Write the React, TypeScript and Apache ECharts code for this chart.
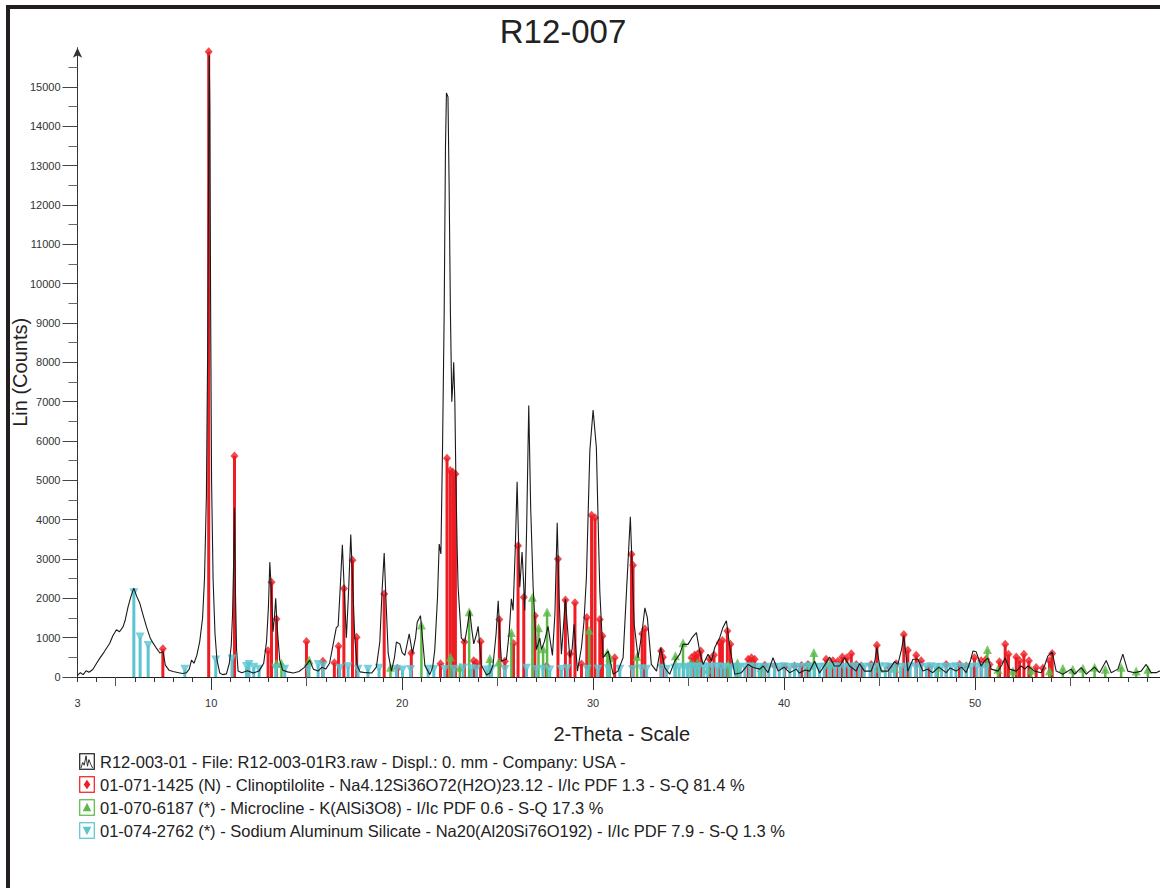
import React, { useEffect, useRef } from "react";
import * as echarts from "echarts";

const titleText = "R12-007";
const xTickLabels = [3, 10, 20, 30, 40, 50];
const xMidTicks = [5, 15, 25, 35, 45, 55];
const xMajorTicks = [10, 20, 30, 40, 50];
const yLabels = [0, 1000, 2000, 3000, 4000, 5000, 6000, 7000, 8000, 9000, 10000, 11000, 12000, 13000, 14000, 15000];
const yMinorTicks = [500, 1500, 2500, 3500, 4500, 5500, 6500, 7500, 8500, 9500, 10500, 11500, 12500, 13500, 14500, 15500];

const legendNames = [
  "R12-003-01 - File: R12-003-01R3.raw - Displ.: 0. mm - Company: USA -",
  "01-071-1425 (N) - Clinoptilolite - Na4.12Si36O72(H2O)23.12 - I/Ic PDF 1.3 - S-Q 81.4 %",
  "01-070-6187 (*) - Microcline - K(AlSi3O8) - I/Ic PDF 0.6 - S-Q 17.3 %",
  "01-074-2762 (*) - Sodium Aluminum Silicate - Na20(Al20Si76O192) - I/Ic PDF 7.9 - S-Q 1.3 %",
];

// Measured pattern (2-theta, counts)
const pattern: [number, number][] = [
  [3.0, 40], [3.15, 110], [3.3, 60], [3.45, 160], [3.6, 120], [3.8, 190], [4.0, 350], [4.17, 480], [4.4, 640],
  [4.69, 860], [4.85, 1050], [5.04, 1200], [5.2, 1150], [5.39, 1280], [5.5, 1450], [5.65, 1790], [5.8, 2050],
  [5.95, 2260], [6.1, 2050], [6.26, 1880], [6.45, 1550], [6.61, 1280], [6.8, 1000], [6.96, 860], [7.15, 720],
  [7.31, 610], [7.48, 640], [7.6, 300], [7.8, 170], [8.0, 140], [8.3, 110], [8.5, 90], [8.71, 110], [8.85, 200],
  [8.97, 430], [9.1, 350], [9.25, 550], [9.4, 900], [9.55, 1500], [9.65, 2500], [9.75, 4600], [9.82, 8500],
  [9.87, 13500], [9.9, 15800], [9.93, 14500], [9.97, 9500], [10.02, 5000], [10.1, 2500], [10.2, 1100], [10.3, 450],
  [10.45, 100], [10.6, 60], [10.8, 80], [10.95, 350], [11.05, 800], [11.12, 1600], [11.18, 3000], [11.22, 4300],
  [11.27, 2200], [11.33, 700], [11.41, 150], [11.6, 110], [11.9, 160], [12.2, 100], [12.5, 150], [12.75, 350],
  [12.9, 900], [13.0, 1800], [13.07, 2920], [13.15, 2200], [13.24, 1150], [13.31, 1500], [13.38, 2000],
  [13.45, 1300], [13.59, 430], [13.75, 170], [14.0, 130], [14.3, 100], [14.6, 140], [14.9, 250], [15.16, 430],
  [15.35, 200], [15.6, 150], [15.8, 250], [16.0, 200], [16.2, 350], [16.38, 810], [16.55, 1250], [16.65, 1300],
  [16.75, 2200], [16.87, 3360], [16.97, 2200], [17.08, 1000], [17.18, 2000], [17.31, 3620], [17.4, 2500],
  [17.52, 1000], [17.64, 300], [17.8, 130], [18.1, 110], [18.4, 100], [18.65, 250], [18.83, 890], [18.95, 2200],
  [19.06, 3150], [19.15, 2000], [19.27, 600], [19.44, 150], [19.6, 500], [19.7, 890], [19.88, 840], [20.0, 620],
  [20.14, 550], [20.37, 1100], [20.54, 600], [20.7, 1000], [20.79, 1390], [20.96, 1560], [21.1, 800], [21.19, 300],
  [21.45, 60], [21.6, 250], [21.71, 700], [21.85, 2000], [21.94, 3380], [22.03, 3130], [22.12, 6000], [22.2, 9200],
  [22.27, 13500], [22.32, 14850], [22.4, 14750], [22.46, 12500], [22.53, 9200], [22.6, 7000], [22.66, 7500],
  [22.7, 8000], [22.76, 7000], [22.81, 5200], [22.88, 3300], [22.93, 2280], [23.1, 990], [23.28, 890], [23.42, 1300],
  [23.54, 1690], [23.65, 1200], [23.75, 840], [23.9, 1100], [23.98, 1290], [24.15, 300], [24.42, 50], [24.6, 100],
  [24.76, 300], [24.92, 1100], [25.03, 1940], [25.12, 1000], [25.2, 400], [25.46, 450], [25.6, 1100], [25.72, 1990],
  [25.81, 1690], [25.92, 3200], [26.02, 4965], [26.1, 3400], [26.16, 2280], [26.28, 3180], [26.36, 2400],
  [26.42, 1690], [26.52, 3800], [26.63, 6900], [26.73, 4320], [26.86, 2280], [27.03, 700], [27.21, 990], [27.29, 700],
  [27.45, 900], [27.64, 1290], [27.87, 550], [28.0, 1600], [28.12, 3920], [28.22, 2000], [28.34, 580], [28.45, 1300],
  [28.55, 1980], [28.65, 1300], [28.78, 490], [28.9, 700], [29.0, 1340], [29.18, 150], [29.39, 750], [29.52, 1400],
  [29.65, 2530], [29.83, 5760], [30.0, 6790], [30.17, 5840], [30.35, 2190], [30.52, 490], [30.79, 660], [31.05, 70],
  [31.3, 150], [31.57, 490], [31.75, 2190], [31.95, 4075], [32.15, 1340], [32.36, 490], [32.57, 1170], [32.71, 1760],
  [32.84, 1510], [33.05, 320], [33.32, 150], [33.54, 750], [33.75, 240], [34.01, 70], [34.28, 410], [34.54, 580],
  [34.71, 830], [34.97, 830], [35.18, 1000], [35.41, 1130], [35.58, 660], [35.76, 320], [36.02, 580], [36.2, 410],
  [36.37, 750], [36.63, 1000], [36.8, 1260], [36.98, 1430], [37.16, 750], [37.42, 70], [37.77, 110], [38.12, 320],
  [38.38, 240], [38.73, 200], [38.9, 280], [39.16, 110], [39.42, 490], [39.69, 150], [40.0, 250], [40.29, 110],
  [40.64, 200], [40.8, 100], [41.1, 180], [41.34, 150], [41.6, 400], [41.86, 100], [42.2, 360], [42.38, 510],
  [42.64, 280], [42.91, 280], [43.17, 490], [43.43, 280], [43.78, 150], [43.95, 340], [44.21, 150], [44.56, 150],
  [44.75, 400], [44.86, 745], [45.0, 300], [45.09, 150], [45.44, 150], [45.79, 390], [45.96, 320], [46.15, 700],
  [46.27, 1040], [46.4, 500], [46.48, 150], [46.75, 450], [47.01, 450], [47.27, 150], [47.5, 200], [47.79, 110],
  [48.1, 250], [48.49, 110], [48.7, 230], [49.01, 150], [49.3, 250], [49.54, 110], [49.75, 400], [49.89, 660],
  [50.06, 640], [50.32, 280], [50.5, 410], [50.67, 480], [50.85, 200], [51.2, 150], [51.4, 300], [51.58, 490],
  [51.8, 200], [52.16, 150], [52.42, 280], [52.6, 200], [52.77, 280], [53.12, 150], [53.46, 110], [53.65, 300],
  [53.81, 530], [54.04, 635], [54.25, 150], [54.6, 70], [55.03, 200], [55.21, 70], [55.56, 240], [55.82, 70],
  [56.0, 150], [56.26, 250], [56.52, 110], [56.87, 420], [57.13, 110], [57.48, 200], [57.74, 580], [58.0, 150],
  [58.35, 110], [58.7, 150], [58.96, 320], [59.22, 110], [59.49, 110], [59.66, 150], [60.0, 100],
];

// Clinoptilolite reference lines
const clinoptilolite: [number, number][] = [
  [7.47, 720], [9.87, 15900], [11.22, 5620], [12.98, 670], [13.16, 2410], [13.42, 1475], [14.99, 900], [15.85, 400],
  [16.45, 360], [16.67, 780], [16.95, 2250], [17.4, 2970], [17.62, 1010], [19.06, 2110], [19.75, 220], [20.48, 610],
  [22.01, 340], [22.35, 5560], [22.52, 5250], [22.65, 5210], [22.79, 5160], [23.26, 890], [23.75, 410], [23.89, 360],
  [24.11, 900], [25.09, 1460], [25.38, 400], [25.83, 850], [26.07, 3340], [26.37, 2030], [26.95, 1560], [27.56, 280],
  [28.16, 3000], [28.55, 1960], [28.8, 590], [29.05, 1890], [29.39, 330], [29.67, 1510], [29.92, 4110], [30.1, 4050],
  [30.35, 1460], [30.49, 1040], [31.13, 490], [32.01, 3120], [32.09, 2840], [32.57, 1100], [32.71, 1220], [33.56, 660],
  [33.66, 500], [35.15, 490], [35.32, 560], [35.46, 580], [35.64, 660], [36.11, 450], [36.33, 560], [36.63, 870],
  [36.77, 930], [37.03, 1170], [37.19, 830], [38.12, 450], [38.29, 490], [38.46, 450], [38.99, 300], [39.51, 280],
  [40.03, 250], [40.55, 280], [40.91, 290], [41.25, 320], [42.2, 450], [42.56, 410], [42.82, 400], [43.05, 510],
  [43.29, 490], [43.52, 590], [43.78, 320], [44.04, 280], [44.56, 320], [44.86, 810], [45.52, 250], [45.87, 340],
  [46.27, 1080], [46.48, 680], [46.92, 550], [47.18, 410], [47.62, 250], [48.49, 320], [49.19, 320], [49.54, 280],
  [49.97, 490], [50.32, 410], [50.58, 450], [50.76, 320], [51.28, 390], [51.58, 830], [51.75, 580], [52.16, 510],
  [52.33, 410], [52.56, 580], [52.82, 410], [53.2, 240], [53.55, 220], [53.9, 410], [54.04, 600],
];

// Microcline reference lines
const microcline: [number, number][] = [
  [13.42, 350], [13.68, 350], [15.13, 430], [19.39, 250], [21.01, 1320], [22.53, 510], [23.02, 250], [23.51, 1660],
  [24.59, 470], [25.06, 380], [25.72, 1130], [26.82, 2030], [27.14, 1250], [27.38, 720], [27.59, 1650], [29.79, 1190],
  [30.75, 620], [30.87, 490], [32.3, 520], [34.31, 540], [34.71, 870], [35.11, 360], [35.46, 360], [36.02, 200],
  [37.07, 320], [37.56, 360], [38.81, 240], [41.34, 300], [41.56, 620], [42.38, 320], [45.0, 220], [45.79, 220],
  [48.05, 250], [50.65, 700], [51.2, 200], [51.98, 160], [52.94, 180], [53.9, 160], [54.6, 220], [55.12, 200],
  [55.65, 220], [56.26, 250], [56.82, 200], [57.65, 250], [58.44, 150], [59.05, 200],
];

// Sodium aluminum silicate reference lines
const naAlSilicate: [number, number][] = [
  [5.95, 2140], [6.28, 1020], [6.7, 800], [8.62, 200], [10.24, 430], [11.09, 460], [11.85, 270], [11.98, 320],
  [12.23, 250], [12.51, 200], [13.38, 220], [13.85, 200], [15.07, 200], [15.6, 320], [15.86, 280], [16.73, 220],
  [17.17, 260], [17.69, 200], [18.21, 200], [18.79, 220], [19.7, 200], [20.02, 180], [20.44, 190], [21.36, 200],
  [21.66, 190], [22.23, 190], [22.71, 200], [23.19, 230], [23.63, 210], [23.89, 200], [24.45, 180], [24.68, 200],
  [25.38, 190], [26.51, 220], [27.03, 190], [27.38, 200], [27.73, 180], [28.34, 190], [28.64, 210], [29.69, 200],
  [30.26, 200], [30.79, 210], [31.4, 200], [32.06, 190], [32.53, 210], [32.79, 200], [33.58, 220], [33.84, 190],
  [34.28, 220], [34.5, 250], [34.75, 230], [34.95, 250], [35.15, 260], [35.35, 240], [35.55, 250], [35.8, 260],
  [36.0, 240], [36.25, 250], [36.5, 260], [36.7, 240], [36.9, 250], [37.2, 230], [37.45, 250], [37.7, 240],
  [37.95, 250], [38.2, 260], [38.45, 240], [38.7, 250], [38.95, 230], [39.2, 250], [39.5, 240], [39.75, 250],
  [40.0, 260], [40.3, 240], [40.55, 250], [40.8, 240], [41.1, 250], [41.35, 260], [41.6, 240], [41.85, 250],
  [42.1, 250], [42.4, 240], [42.65, 260], [42.9, 250], [43.15, 240], [43.4, 250], [43.7, 260], [43.95, 240],
  [44.2, 250], [44.5, 250], [44.75, 240], [45.0, 250], [45.3, 260], [45.55, 240], [45.8, 250], [46.1, 250],
  [46.35, 240], [46.6, 260], [46.9, 250], [47.15, 240], [47.45, 250], [47.7, 260], [47.95, 240], [48.25, 250],
  [48.5, 250], [48.75, 240], [49.0, 260], [49.3, 250], [49.55, 240], [49.8, 250], [50.1, 260], [50.35, 250],
  [50.6, 240],
];

const RED = "#ee1d23";
const GREEN = "#5cb947";
const CYAN = "#5bc4d1";
const FONT = "'Liberation Sans', Arial, Helvetica, sans-serif";

function svgIcon(color: string, inner: string): string {
  const svg =
    `<svg xmlns="http://www.w3.org/2000/svg" width="17" height="18" viewBox="0 0 17 18">` +
    `<rect x="0.75" y="0.75" width="15.5" height="16.5" fill="white" stroke="${color}" stroke-width="1.3"/>` +
    inner +
    `</svg>`;
  return "image://data:image/svg+xml;charset=utf-8," + encodeURIComponent(svg);
}

const icons = [
  svgIcon("#222", `<polyline points="2,16 4,10 5.5,13 7.5,3 9,14 10.5,7 12.5,12 14.5,16" fill="none" stroke="#222" stroke-width="1"/>`),
  svgIcon(RED, `<polygon points="8.5,4 12,9 8.5,14 5,9" fill="${RED}"/>`),
  svgIcon(GREEN, `<polygon points="8.5,4 13,13 4,13" fill="${GREEN}"/>`),
  svgIcon(CYAN, `<polygon points="4,5 13,5 8.5,14" fill="${CYAN}"/>`),
];

function stickSeries(name: string, data: [number, number][], color: string, width: number, z: number) {
  return {
    type: "custom",
    name,
    data,
    z,
    clip: true,
    encode: { x: 0, y: 1 },
    renderItem: (_params: any, api: any) => {
      const top = api.coord([api.value(0), api.value(1)]);
      const base = api.coord([api.value(0), 0]);
      return {
        type: "line",
        shape: { x1: top[0], y1: top[1], x2: base[0], y2: base[1] },
        style: { stroke: color, lineWidth: width },
      };
    },
  };
}

function markerSeries(name: string, data: [number, number][], color: string, symbol: string, size: any, rotate: number, z: number) {
  return {
    type: "scatter",
    name,
    data,
    z,
    symbol,
    symbolSize: size,
    symbolRotate: rotate,
    itemStyle: { color },
    clip: true,
  };
}

export default function App() {
  const ref = useRef<HTMLDivElement>(null);

  useEffect(() => {
    if (!ref.current) return;
    const chart = echarts.init(ref.current, undefined, { renderer: "svg" });
    const xBase = {
      type: "value",
      min: 3,
      max: 60,
      position: "bottom",
      offset: 0,
      splitLine: { show: false },
    };
    const yBase = {
      type: "value",
      min: 0,
      max: 16000,
      position: "left",
      offset: 0,
      splitLine: { show: false },
    };
    chart.setOption({
      animation: false,
      backgroundColor: "#ffffff",
      textStyle: { fontFamily: FONT },
      title: {
        text: titleText,
        left: 558,
        top: 10,
        textAlign: "center",
        textStyle: { fontSize: 33, fontWeight: "normal", color: "#222", fontFamily: FONT },
      },
      grid: { left: 77.5, right: -6, top: 47.7, bottom: 211, containLabel: false, outerBoundsMode: "none" },
      xAxis: [
        {
          ...xBase,
          interval: 1,
          name: "2-Theta - Scale",
          nameLocation: "middle",
          nameGap: 47,
          nameMoveOverlap: false,
          nameTextStyle: { fontSize: 20, color: "#222", fontFamily: FONT },
          axisLine: { show: true, lineStyle: { color: "#222", width: 1.2 } },
          axisTick: { show: true, length: 5, lineStyle: { color: "#333" } },
          axisLabel: {
            show: true,
            customValues: xTickLabels,
            margin: 20,
            fontSize: 11,
            color: "#333",
            fontFamily: FONT,
            formatter: (v: number) => String(v),
          },
        },
        {
          ...xBase,
          axisLine: { show: false },
          axisTick: { show: true, customValues: xMidTicks, length: 9, lineStyle: { color: "#555" } },
          axisLabel: { show: false },
        },
        {
          ...xBase,
          axisLine: { show: false },
          axisTick: { show: true, customValues: xMajorTicks, length: 13, lineStyle: { color: "#333" } },
          axisLabel: { show: false },
        },
      ],
      yAxis: [
        {
          ...yBase,
          interval: 1000,
          name: "Lin (Counts)",
          nameLocation: "middle",
          nameGap: 48,
          nameMoveOverlap: false,
          nameTextStyle: { fontSize: 20, color: "#222", fontFamily: FONT, padding: [0, 20, 0, 0] },
          axisLine: { show: true, symbol: ["none", "arrow"], symbolSize: [7, 10], lineStyle: { color: "#333", width: 1 } },
          axisTick: { show: true, customValues: yLabels, length: 15, lineStyle: { color: "#444" } },
          axisLabel: {
            show: true,
            customValues: yLabels,
            margin: 17,
            fontSize: 11,
            color: "#333",
            fontFamily: FONT,
            formatter: (v: number) => String(v),
          },
        },
        {
          ...yBase,
          axisLine: { show: false },
          axisTick: { show: true, customValues: yMinorTicks, length: 9, lineStyle: { color: "#666" } },
          axisLabel: { show: false },
        },
      ],
      legend: {
        orient: "vertical",
        left: 79,
        top: 753,
        itemWidth: 16,
        itemHeight: 17,
        itemGap: 6,
        padding: 0,
        selectedMode: false,
        textStyle: { fontSize: 16.5, color: "#222", fontFamily: FONT },
        data: legendNames.map((n, i) => ({ name: n, icon: icons[i] })),
      },
      graphic: [
        { type: "rect", shape: { x: 6, y: 5, width: 1160, height: 4 }, style: { fill: "#231f20" }, silent: true, z: -1 },
        { type: "rect", shape: { x: 6, y: 5, width: 4, height: 890 }, style: { fill: "#231f20" }, silent: true, z: -1 },
      ],
      series: [
        stickSeries(legendNames[1], clinoptilolite, RED, 3, 3),
        markerSeries(legendNames[1], clinoptilolite, RED, "diamond", [8, 9], 0, 4),
        stickSeries(legendNames[2], microcline, GREEN, 2.5, 5),
        markerSeries(legendNames[2], microcline, GREEN, "triangle", 9, 0, 6),
        stickSeries(legendNames[3], naAlSilicate, CYAN, 3, 7),
        markerSeries(legendNames[3], naAlSilicate, CYAN, "triangle", 9, 180, 8),
        {
          type: "line",
          name: legendNames[0],
          data: pattern,
          z: 10,
          showSymbol: false,
          symbol: "none",
          lineStyle: { color: "#1a1a1a", width: 1.1 },
          clip: true,
        },
      ],
    });
    return () => chart.dispose();
  }, []);

  return (
    <div
      ref={ref}
      style={{ position: "absolute", left: 0, top: 0, width: 1160, height: 888, background: "#fff" }}
    />
  );
}
